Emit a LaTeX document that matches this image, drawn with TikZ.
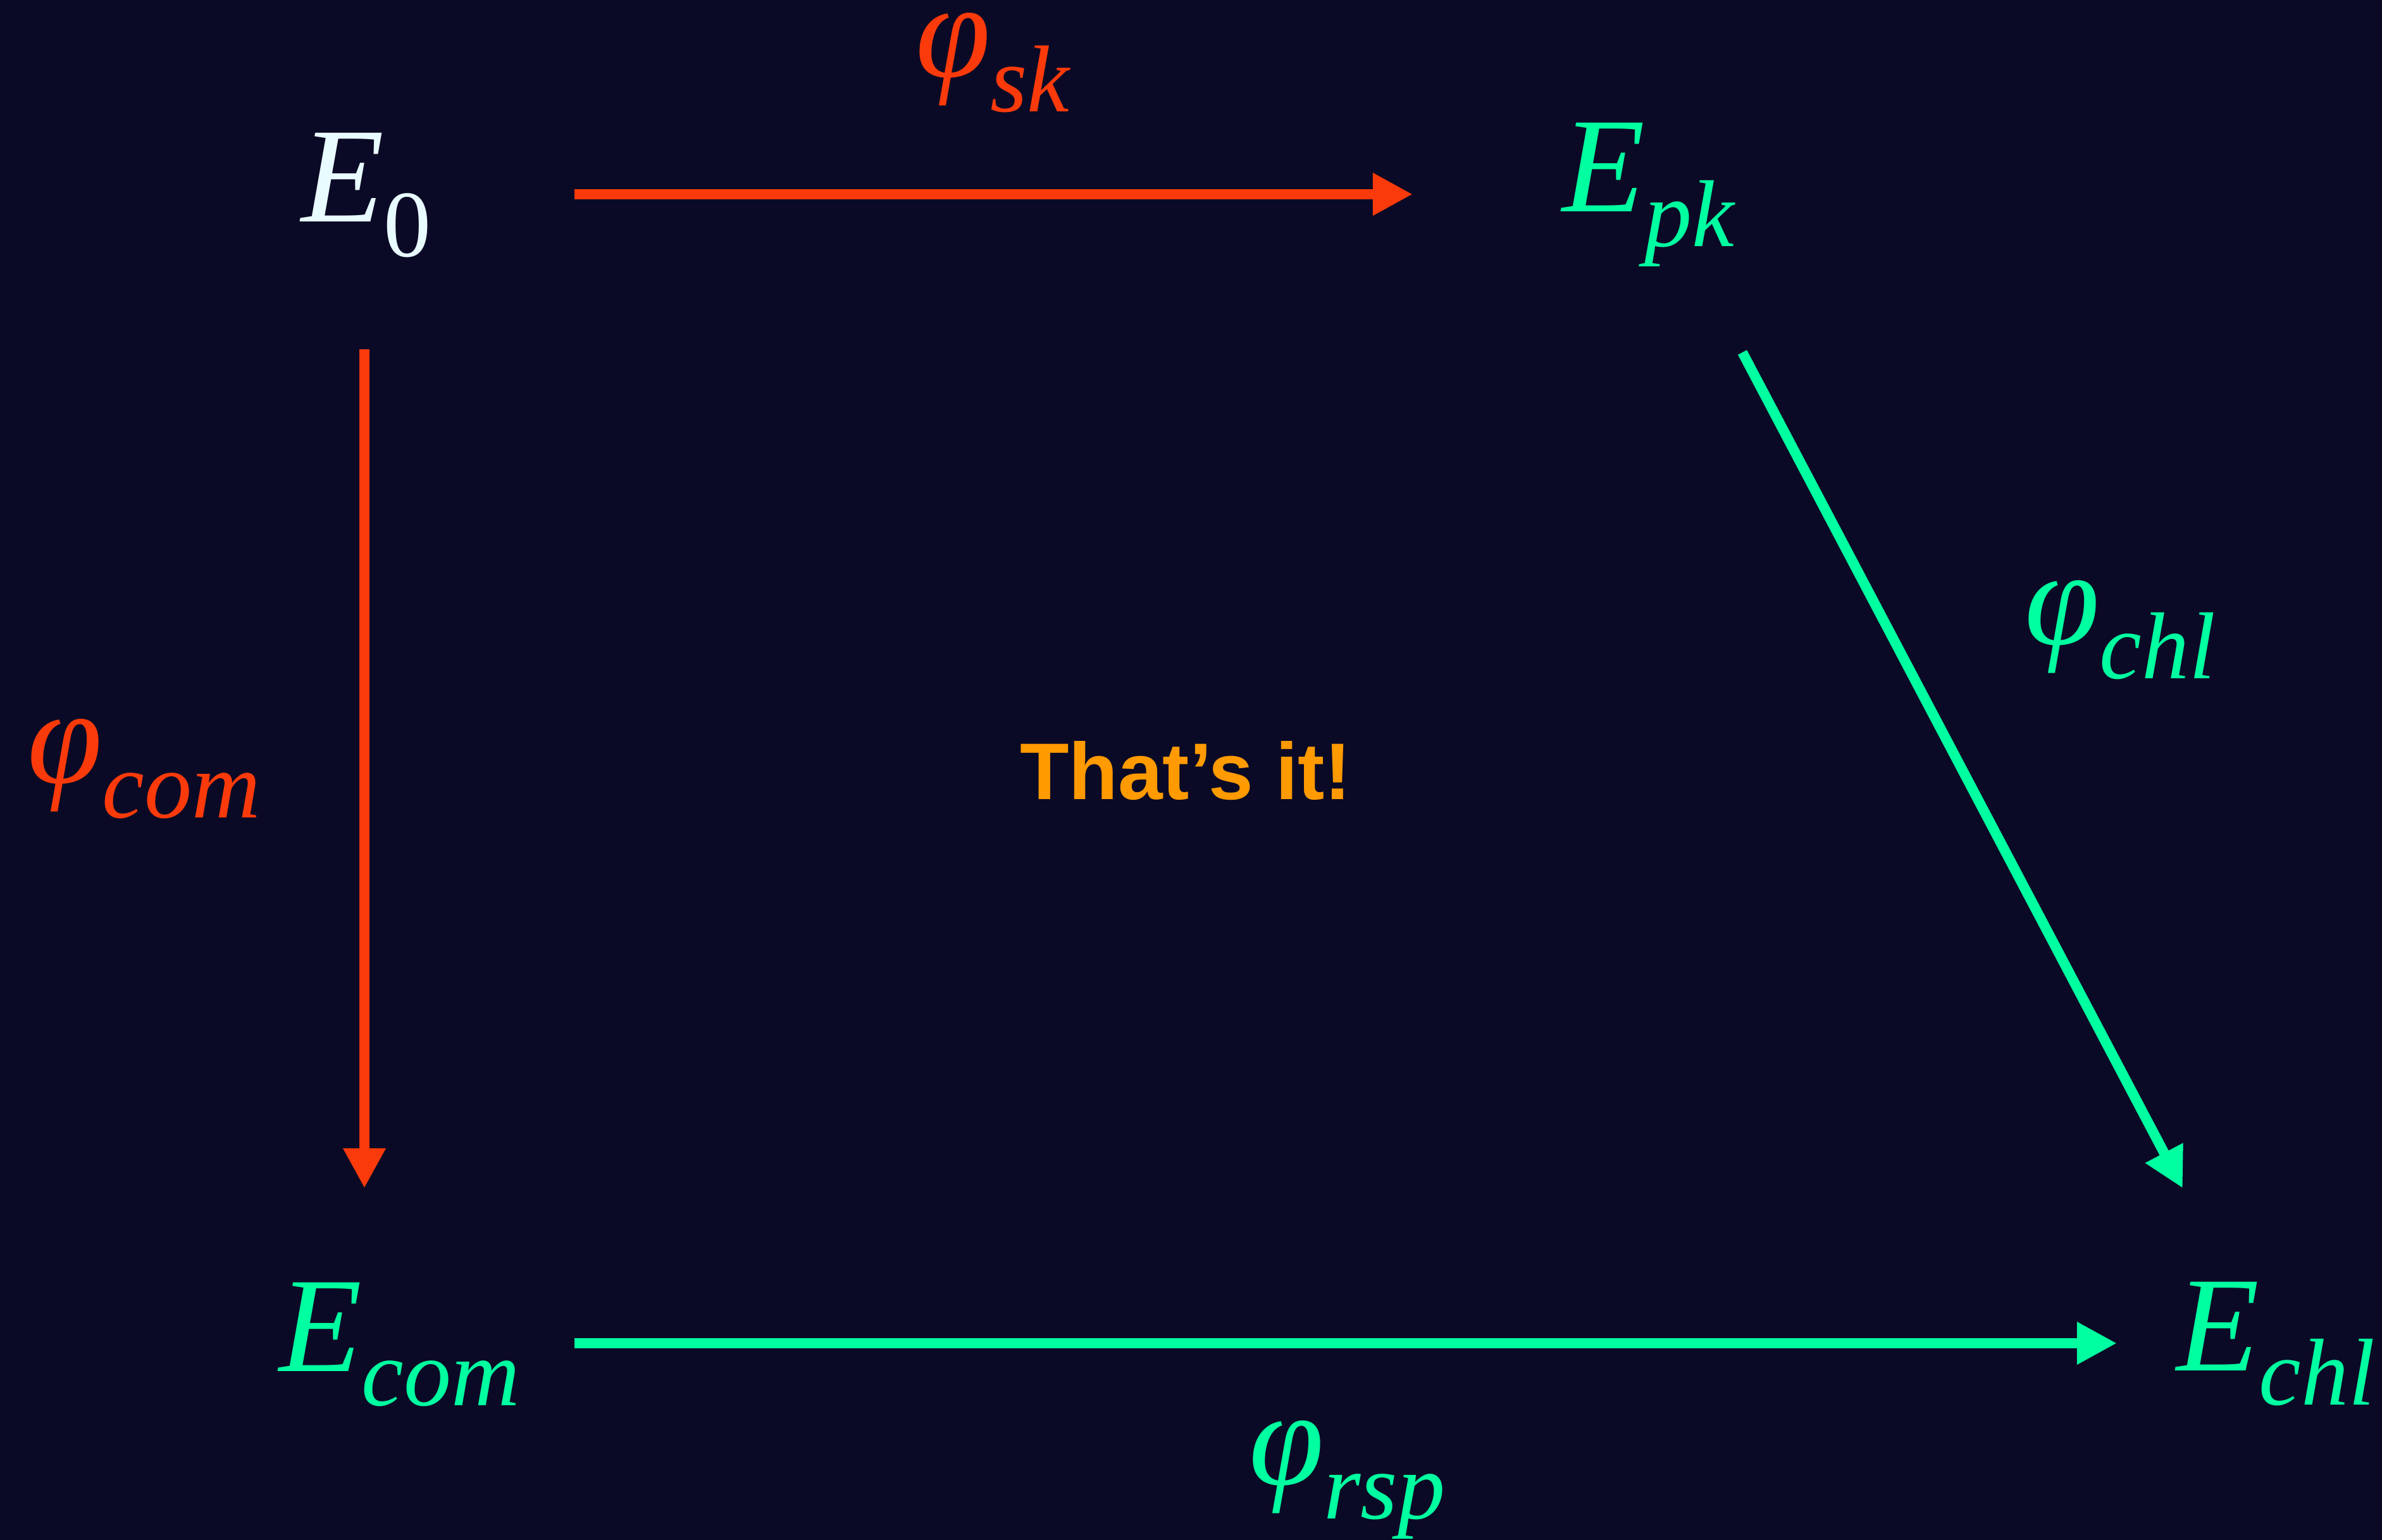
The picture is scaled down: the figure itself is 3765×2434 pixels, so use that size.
\documentclass[tikz,border=0pt]{standalone}
\usepackage{fontspec}
\setmainfont{Liberation Serif}
\newfontfamily\sansbold{Liberation Sans}[BoldFont={Liberation Sans Bold}]
\usetikzlibrary{arrows.meta,calc}
\definecolor{bgc}{RGB}{11,10,38}
\definecolor{cred}{RGB}{250,58,10}
\definecolor{cgreen}{RGB}{0,255,160}
\definecolor{cwhite}{RGB}{232,252,255}
\definecolor{corange}{RGB}{255,154,0}
\newcommand{\mainsz}{\fontsize{60.9pt}{72pt}\selectfont}
\newcommand{\subsz}{\fontsize{42.7pt}{50pt}\selectfont}
\newcommand{\mylbl}[2]{{\mainsz\itshape #1}{\subsz\itshape\raisebox{-0.54cm}{#2}}}
\begin{document}
\begin{tikzpicture}[x=0.01cm,y=-0.01cm,
  lab/.style={inner sep=0pt,outer sep=0pt,anchor=base west},
  conn/.style={line width=0.16cm,-{Triangle[length=0.63cm,width=0.63cm]}},
  redarr/.style={conn,draw=cred,fill=cred},
  greenarr/.style={conn,draw=cgreen,fill=cgreen}]
\fill[bgc] (0,0) rectangle (3765,2434);
\useasboundingbox (0,0) rectangle (3765,2434);
% objects
\node[lab,text=cwhite] (e0) at (476,351) {\mylbl{E}{\upshape 0}};
\node[lab,text=cgreen] (epk) at (2469,335) {\mylbl{E}{pk}};
\node[lab,text=cgreen] (ecom) at (441,2167) {\mylbl{E}{com}};
\node[lab,text=cgreen] (echl) at (3440,2166) {\mylbl{E}{chl}};
% map labels
\node[lab,text=cred] (phisk) at (1447,122) {\mylbl{φ}{sk}};
\node[lab,text=cred] (phicom) at (43,1238) {\mylbl{φ}{com}};
\node[lab,text=cgreen] (phichl) at (3200,1018) {\mylbl{φ}{chl}};
\node[lab,text=cgreen] (phirsp) at (1974,2346) {\mylbl{φ}{rsp}};
\node[lab,text=corange] (note) at (1612,1263) {\sansbold\bfseries\fontsize{36.1pt}{42pt}\selectfont That’s it!};
% connectors
\draw[redarr] ($(e0.base west)+(432,-44)$) -- ($(epk.base west)+(-236,-28)$);
\draw[redarr] ($(e0.base west)+(100,201)$) -- ($(ecom.base west)+(135,-289)$);
\draw[greenarr] ($(epk.base west)+(285,222)$) -- ($(echl.base west)+(10,-288)$);
\draw[greenarr] ($(ecom.base west)+(467,-44)$) -- ($(echl.base west)+(-94,-43)$);
\end{tikzpicture}
\end{document}
